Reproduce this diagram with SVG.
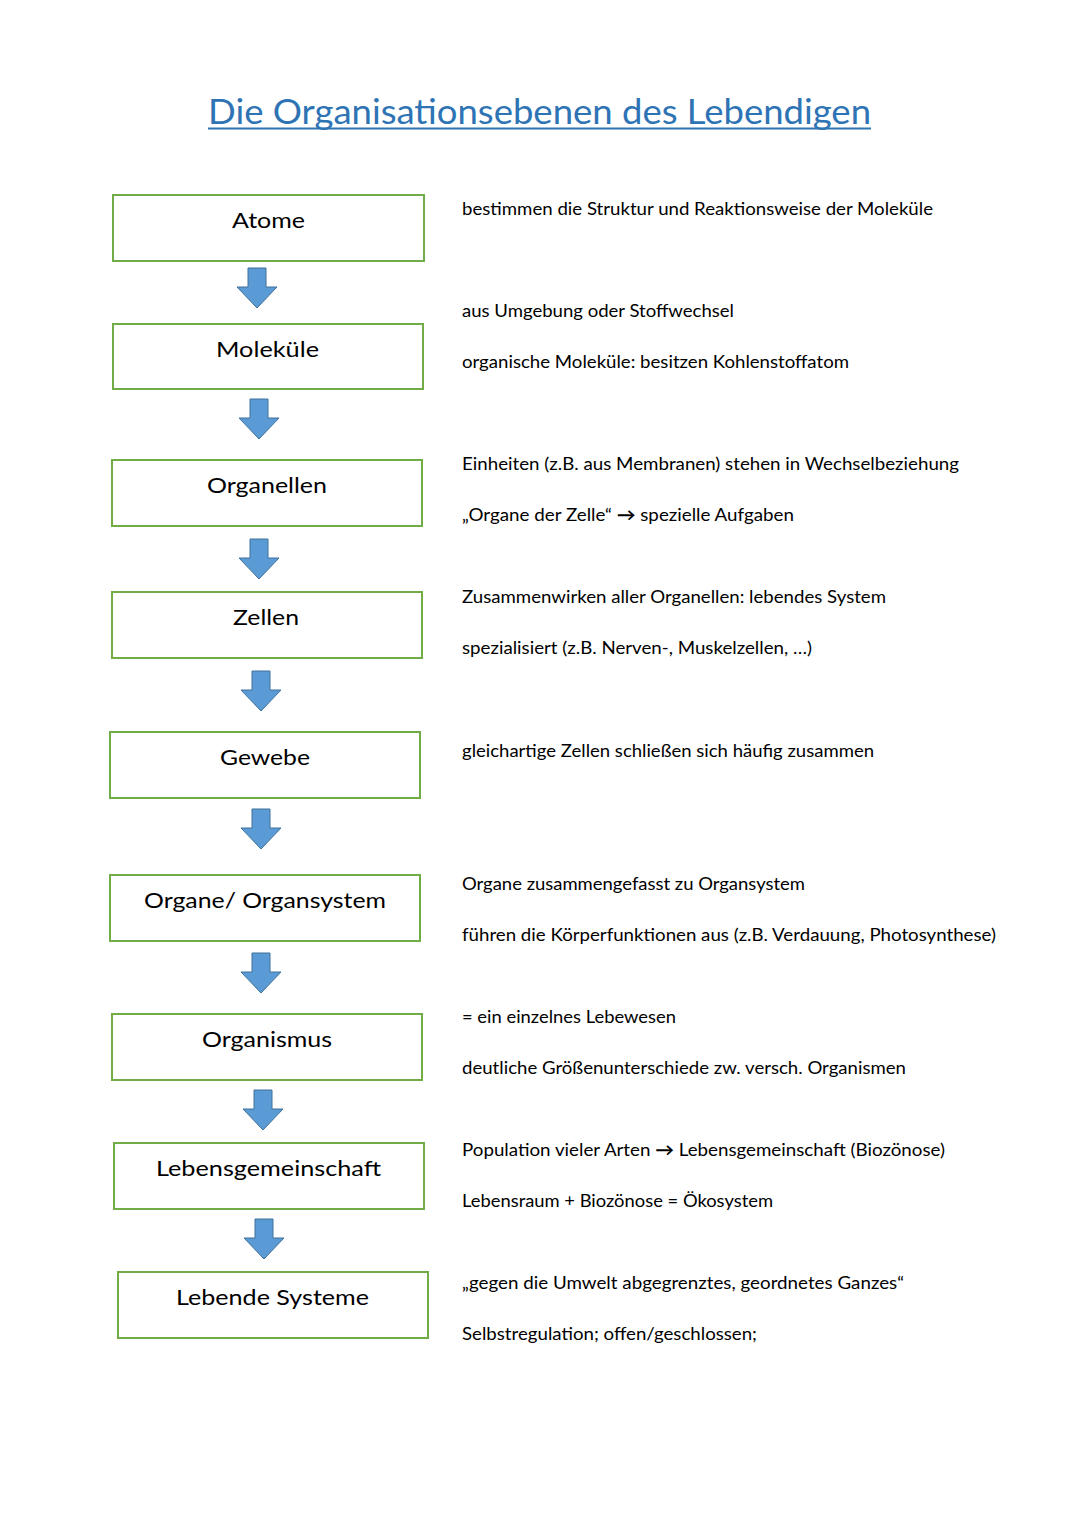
<svg xmlns="http://www.w3.org/2000/svg" xmlns:xlink="http://www.w3.org/1999/xlink" width="1080" height="1527" viewBox="0 0 1080 1527">
<style>
.box{fill:#ffffff;stroke:#70AD47;stroke-width:2}
.lbl{font-family:Lato,"Open Sans","Liberation Sans",sans-serif;font-size:21px;fill:#000;text-anchor:middle}
.desc{font-family:Lato,"Open Sans","Liberation Sans",sans-serif;font-size:17px;fill:#000}
.title{font-family:Lato,"Open Sans","Liberation Sans",sans-serif;font-size:34px;fill:#2E74B5}
.arr{fill:#5B9BD5;stroke:#41719C;stroke-width:1}
.b{font-weight:700}
</style>
<defs>
<path id="dn" class="arr" d="M-9,0 H9 V19 H20 L0,40 L-20,19 H-9 Z"/>
</defs>
<rect width="1080" height="1527" fill="#ffffff"/>
<g id="title">
<text class="title" x="208" y="124" textLength="663" lengthAdjust="spacingAndGlyphs">Die Organisationsebenen des Lebendigen</text>
<rect x="208" y="127.5" width="663" height="2" fill="#2E74B5"/>
</g>
<g id="n-atome"><rect class="box" x="113" y="195" width="311" height="66"/><text class="lbl" x="268.5" y="228" textLength="73" lengthAdjust="spacingAndGlyphs">Atome</text></g>
<g id="n-molekuele"><rect class="box" x="113" y="324" width="310" height="65"/><text class="lbl" x="267.5" y="357" textLength="103" lengthAdjust="spacingAndGlyphs">Moleküle</text></g>
<g id="n-organellen"><rect class="box" x="112" y="460" width="310" height="66"/><text class="lbl" x="267" y="493" textLength="120" lengthAdjust="spacingAndGlyphs">Organellen</text></g>
<g id="n-zellen"><rect class="box" x="112" y="592" width="310" height="66"/><text class="lbl" x="266" y="625" textLength="66" lengthAdjust="spacingAndGlyphs">Zellen</text></g>
<g id="n-gewebe"><rect class="box" x="110" y="732" width="310" height="66"/><text class="lbl" x="265" y="765" textLength="90" lengthAdjust="spacingAndGlyphs">Gewebe</text></g>
<g id="n-organe"><rect class="box" x="110" y="875" width="310" height="66"/><text class="lbl" x="265" y="908" textLength="242" lengthAdjust="spacingAndGlyphs">Organe/ Organsystem</text></g>
<g id="n-organismus"><rect class="box" x="112" y="1014" width="310" height="66"/><text class="lbl" x="267" y="1047" textLength="130" lengthAdjust="spacingAndGlyphs">Organismus</text></g>
<g id="n-lebensgemeinschaft"><rect class="box" x="114" y="1143" width="310" height="66"/><text class="lbl" x="268.5" y="1176" textLength="225" lengthAdjust="spacingAndGlyphs">Lebensgemeinschaft</text></g>
<g id="n-lebende-systeme"><rect class="box" x="118" y="1272" width="310" height="66"/><text class="lbl" x="272.5" y="1305" textLength="193" lengthAdjust="spacingAndGlyphs">Lebende Systeme</text></g>
<g id="connectors">
<use xlink:href="#dn" href="#dn" transform="translate(257,268)"/>
<use xlink:href="#dn" href="#dn" transform="translate(259,399)"/>
<use xlink:href="#dn" href="#dn" transform="translate(259,539)"/>
<use xlink:href="#dn" href="#dn" transform="translate(261,671)"/>
<use xlink:href="#dn" href="#dn" transform="translate(261,809)"/>
<use xlink:href="#dn" href="#dn" transform="translate(261,953)"/>
<use xlink:href="#dn" href="#dn" transform="translate(263,1090)"/>
<use xlink:href="#dn" href="#dn" transform="translate(264,1219)"/>
</g>
<g id="descriptions">
<text class="desc" x="462" y="215" textLength="471" lengthAdjust="spacingAndGlyphs">bestimmen die Struktur und Reaktionsweise der Moleküle</text>
<text class="desc" x="462" y="317" textLength="272" lengthAdjust="spacingAndGlyphs">aus Umgebung oder Stoffwechsel</text>
<text class="desc" x="462" y="368" textLength="387" lengthAdjust="spacingAndGlyphs">organische Moleküle: besitzen Kohlenstoffatom</text>
<text class="desc" x="462" y="470" textLength="497" lengthAdjust="spacingAndGlyphs">Einheiten (z.B. aus Membranen) stehen in Wechselbeziehung</text>
<text class="desc" x="462" y="521" textLength="332" lengthAdjust="spacingAndGlyphs">„Organe der Zelle“ <tspan class="b">→</tspan> spezielle Aufgaben</text>
<text class="desc" x="462" y="603" textLength="424" lengthAdjust="spacingAndGlyphs">Zusammenwirken aller Organellen: lebendes System</text>
<text class="desc" x="462" y="654" textLength="350" lengthAdjust="spacingAndGlyphs">spezialisiert (z.B. Nerven-, Muskelzellen, …)</text>
<text class="desc" x="462" y="757" textLength="412" lengthAdjust="spacingAndGlyphs">gleichartige Zellen schließen sich häufig zusammen</text>
<text class="desc" x="462" y="890" textLength="343" lengthAdjust="spacingAndGlyphs">Organe zusammengefasst zu Organsystem</text>
<text class="desc" x="462" y="941" textLength="534" lengthAdjust="spacingAndGlyphs">führen die Körperfunktionen aus (z.B. Verdauung, Photosynthese)</text>
<text class="desc" x="462" y="1023" textLength="214" lengthAdjust="spacingAndGlyphs">= ein einzelnes Lebewesen</text>
<text class="desc" x="462" y="1074" textLength="444" lengthAdjust="spacingAndGlyphs">deutliche Größenunterschiede zw. versch. Organismen</text>
<text class="desc" x="462" y="1156" textLength="483" lengthAdjust="spacingAndGlyphs">Population vieler Arten <tspan class="b">→</tspan> Lebensgemeinschaft (Biozönose)</text>
<text class="desc" x="462" y="1207" textLength="311" lengthAdjust="spacingAndGlyphs">Lebensraum + Biozönose = Ökosystem</text>
<text class="desc" x="462" y="1289" textLength="442" lengthAdjust="spacingAndGlyphs">„gegen die Umwelt abgegrenztes, geordnetes Ganzes“</text>
<text class="desc" x="462" y="1340" textLength="295" lengthAdjust="spacingAndGlyphs">Selbstregulation; offen/geschlossen;</text>
</g>
</svg>
